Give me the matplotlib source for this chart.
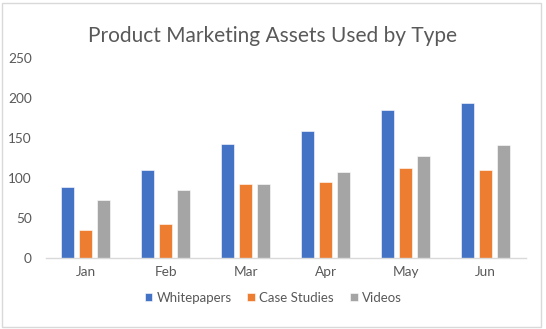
import matplotlib.pyplot as plt
import numpy as np
from matplotlib.patches import Rectangle

plt.rcParams['font.family'] = ['Lato', 'DejaVu Sans']

months = ['Jan', 'Feb', 'Mar', 'Apr', 'May', 'Jun']
whitepapers = [89, 110, 143, 159, 185, 194]
case_studies = [35, 42, 93, 95, 112, 110]
videos = [72, 85, 93, 108, 127, 142]

series = [('Whitepapers', whitepapers, '#4472c4'),
          ('Case Studies', case_studies, '#ed7d31'),
          ('Videos', videos, '#a5a5a5')]

text_color = '#595959'

fig = plt.figure(figsize=(5.46, 3.29), dpi=100, facecolor='white')
ax = fig.add_axes([0.084, 0.216, 0.879, 0.607])

x = np.arange(len(months))
width = 0.165
step = 0.225
for i, (name, vals, color) in enumerate(series):
    ax.bar(x + (i - 1) * step, vals, width, color=color, label=name,
           edgecolor='white', linewidth=0.4)

ax.set_xlim(-0.5, len(months) - 0.5)
ax.set_ylim(0, 250)
ax.set_yticks(range(0, 251, 50))
ax.set_xticks(x)
ax.set_xticklabels(months)
ax.tick_params(axis='both', length=0, colors=text_color, labelsize=9.8)
ax.tick_params(axis='y', pad=10)
ax.tick_params(axis='x', pad=6)
for side in ['top', 'right', 'left']:
    ax.spines[side].set_visible(False)
ax.spines['bottom'].set_color('#d9d9d9')
ax.spines['bottom'].set_linewidth(1.0)

fig.suptitle('Product Marketing Assets Used by Type', x=0.5, y=0.92,
             fontsize=15, color=text_color)

leg = fig.legend(loc='center', bbox_to_anchor=(0.5, 0.095), ncol=3,
                 frameon=False, fontsize=9.5, handlelength=0.6,
                 handleheight=0.6, handletextpad=0.3, columnspacing=1.2)
for t in leg.get_texts():
    t.set_color(text_color)

# outer chart border
fig.patches.append(Rectangle((0.004, 0.006), 0.987, 0.985,
                             transform=fig.transFigure, fill=False,
                             edgecolor='#d9d9d9', linewidth=1.0))

fig.savefig('out.png', dpi=100, facecolor='white')
